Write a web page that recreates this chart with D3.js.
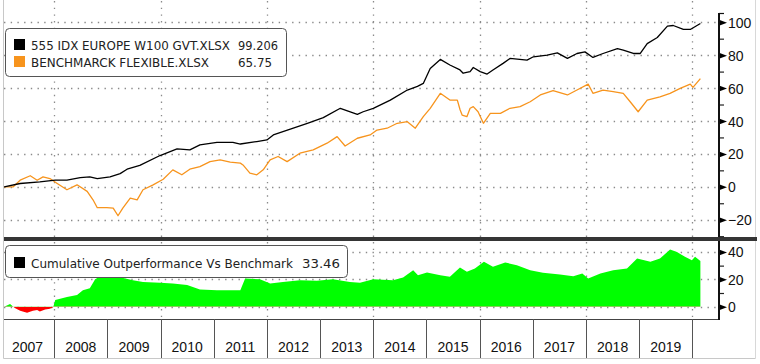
<!DOCTYPE html>
<html><head><meta charset="utf-8">
<script src="https://cdn.jsdelivr.net/npm/d3@7/dist/d3.min.js"></script>
<style>
html,body{margin:0;padding:0;background:#fff;}
svg{display:block;}
</style></head>
<body>
<script>
// ---------- DATA (decimal years, cumulative % values) ----------
const fundDates = [2007.06,2007.36,2007.73,2008.02,2008.24,2008.49,2008.67,2008.81,2009.05,2009.24,2009.37,2009.61,2009.99,2010.31,2010.55,2010.74,2011.06,2011.36,2011.50,2011.81,2012.00,2012.12,2012.44,2012.76,2013.06,2013.38,2013.70,2013.81,2014.00,2014.32,2014.64,2014.83,2014.94,2015.07,2015.26,2015.44,2015.63,2015.69,2015.82,2015.88,2016.01,2016.14,2016.25,2016.44,2016.57,2016.89,2017.01,2017.27,2017.46,2017.65,2017.83,2017.98,2018.13,2018.32,2018.59,2018.70,2018.89,2019.02,2019.15,2019.34,2019.53,2019.64,2019.83,2019.96,2020.15];
const fundValues = [0,2,3,4,4,5.6,6,5,6,8,10.7,13,19,23,22.4,25.5,27,27,26,27.5,28.5,31.5,35,38.6,42,47.7,44,45.6,47.7,52.7,58.8,61,62.8,71.9,77.4,74,71,69,70,72.5,70,68.5,71,75,78,77,79,80,81.4,78,81,82,78.6,81,84,83,81,81,87,90.7,97.6,98,95.6,95.6,99.206];

const benchDates = [2007.06,2007.23,2007.36,2007.55,2007.68,2007.79,2007.92,2008.05,2008.24,2008.43,2008.62,2008.73,2008.81,2008.99,2009.11,2009.20,2009.29,2009.43,2009.56,2009.67,2009.86,2010.05,2010.23,2010.40,2010.55,2010.74,2010.93,2011.12,2011.31,2011.50,2011.55,2011.68,2011.81,2011.93,2012.06,2012.21,2012.38,2012.62,2012.87,2013.13,2013.32,2013.47,2013.70,2013.94,2014.07,2014.26,2014.45,2014.64,2014.79,2014.94,2015.07,2015.26,2015.44,2015.58,2015.63,2015.67,2015.76,2015.82,2015.88,2015.97,2016.07,2016.20,2016.39,2016.57,2016.76,2016.95,2017.14,2017.38,2017.65,2017.83,2018.04,2018.13,2018.32,2018.51,2018.70,2018.83,2018.98,2019.15,2019.39,2019.58,2019.77,2019.96,2020.01,2020.15];
const benchValues = [0,0,4,6.7,4,6,5,2.2,-1.8,1.2,-2.8,-7.9,-12.7,-12.7,-13,-17.6,-13,-6.9,-7.9,-1.8,1.2,4.6,10.3,7.3,10.7,12.3,15.3,16.4,15,14.4,13.3,8.3,7.3,10.3,16.4,18.4,15.3,20.4,22.4,26.5,30.5,24.8,29.5,31.5,34.5,35.6,38.6,39.6,35.6,42.6,47.7,56.8,52.7,52.7,47,43.6,42.6,47.7,48.7,45.6,38.6,44.6,44.6,47.7,48.7,51.7,55.8,58.4,55.8,58.8,62.4,56.8,58.8,57.8,56.8,51.7,45.6,52.7,54.7,56.8,59.8,62.4,60.4,65.75];

const outDates = [2007.06,2007.17,2007.26,2007.36,2007.49,2007.60,2007.68,2007.73,2007.83,2007.92,2007.98,2008.02,2008.24,2008.43,2008.54,2008.67,2008.77,2008.86,2009.18,2009.48,2009.67,2009.99,2010.23,2010.50,2010.74,2011.06,2011.50,2011.59,2011.87,2012.06,2012.30,2012.62,2012.94,2013.24,2013.56,2013.75,2014.00,2014.37,2014.56,2014.75,2014.84,2015.01,2015.26,2015.44,2015.63,2015.76,2015.91,2016.08,2016.25,2016.48,2016.70,2016.95,2017.19,2017.51,2017.76,2017.93,2018.04,2018.27,2018.51,2018.77,2018.96,2019.21,2019.39,2019.58,2019.71,2019.86,2019.99,2020.05,2020.15];
const outValues = [0,2,-1,-3,-4.5,-3,-2.5,-3.5,-2,-1.5,-0.5,4.9,7,8.5,12,13.4,20,22,22,19.4,18,17.5,17,15.8,12.6,12.1,12.1,20.6,20,17,18,19.4,19,20,18,17.5,20,19.4,21.4,26.7,23,25,23,21.9,28.6,25.5,27.9,32.8,29.1,32.3,30.3,26.7,24.8,23.5,22.3,24.3,20.6,24.3,26.7,27.9,35.2,32.8,35.2,41.7,40,36.4,34,36.4,33.46];

const yearLabels = [2007,2008,2009,2010,2011,2012,2013,2014,2015,2016,2017,2018,2019];
const yearBoundaries = [2008,2009,2010,2011,2012,2013,2014,2015,2016,2017,2018,2019,2020];
const gridYears = [2008,2010,2012,2014,2016,2018,2020];
const upperTicks = [-20,0,20,40,60,80,100];
const upperMinor = [-30,-10,10,30,50,70,90];
const lowerTicks = [0,20,40];
const lowerMinor = [10,30];

const legendTop = [
  {name:"555 IDX EUROPE W100 GVT.XLSX", value:"99.206", color:"#000000"},
  {name:"BENCHMARCK FLEXIBLE.XLSX", value:"65.75", color:"#f7941d"}
];
const legendBottom = {name:"Cumulative Outperformance Vs Benchmark", value:"33.46", color:"#000000"};

// ---------- LAYOUT ----------
const W = 760, H = 364;
const plotL = 4, axisX = 719;
const upTop = 0, upBot = 237;
const loTop = 241, loBot = 319;

const svg = d3.select("body").append("svg").attr("width", W).attr("height", H);

const x = d3.scaleLinear().domain([2007, 2020.5]).range([1, axisX]);
const yU = d3.scaleLinear().domain([-30.5, 113.5]).range([upBot, upTop]);
const yL = d3.scaleLinear().domain([-9, 48]).range([loBot, loTop]);

const defs = svg.append("defs");
defs.append("clipPath").attr("id","clipU").append("rect").attr("x",plotL).attr("y",upTop).attr("width",axisX-plotL).attr("height",upBot-upTop);
defs.append("clipPath").attr("id","clipL").append("rect").attr("x",plotL).attr("y",loTop).attr("width",axisX-plotL).attr("height",loBot-loTop);
defs.append("clipPath").attr("id","clipPos").append("rect").attr("x",plotL).attr("y",loTop).attr("width",axisX-plotL).attr("height",yL(0)-loTop);
defs.append("clipPath").attr("id","clipNeg").append("rect").attr("x",plotL).attr("y",yL(0)).attr("width",axisX-plotL).attr("height",loBot-yL(0));

// outer frame (light)
svg.append("line").attr("x1",3.5).attr("x2",3.5).attr("y1",0).attr("y2",358.5).attr("stroke","#c8c8c8");
svg.append("line").attr("x1",3.5).attr("x2",755.5).attr("y1",358.5).attr("y2",358.5).attr("stroke","#c8c8c8");
svg.append("line").attr("x1",755.5).attr("x2",755.5).attr("y1",0).attr("y2",358.5).attr("stroke","#d8d8d8");

// ---------- GRIDLINES ----------
const gridStyle = g => g.attr("stroke","#8a8a8a").attr("stroke-width",1.3).attr("stroke-dasharray","1.4,5.3").attr("fill","none");
const gU = svg.append("g");
gU.selectAll("line.h").data(upperTicks).join("line")
  .attr("x1",plotL).attr("x2",axisX).attr("y1",d=>Math.round(yU(d))+0.5).attr("y2",d=>Math.round(yU(d))+0.5).call(gridStyle);
gU.selectAll("line.v").data(gridYears).join("line")
  .attr("x1",d=>Math.round(x(d))+0.5).attr("x2",d=>Math.round(x(d))+0.5).attr("y1",upTop+1).attr("y2",upBot).call(gridStyle);
const gL = svg.append("g");
gL.selectAll("line.h").data(lowerTicks).join("line")
  .attr("x1",plotL).attr("x2",axisX).attr("y1",d=>Math.round(yL(d))+0.5).attr("y2",d=>Math.round(yL(d))+0.5).call(gridStyle);
gL.selectAll("line.v").data(gridYears).join("line")
  .attr("x1",d=>Math.round(x(d))+0.5).attr("x2",d=>Math.round(x(d))+0.5).attr("y1",loTop+1).attr("y2",loBot).call(gridStyle);

// ---------- UPPER LINES ----------
const lineGen = (dates) => d3.line().x((d,i)=>x(dates[i])).y(d=>yU(d));
svg.append("path").datum(benchValues).attr("clip-path","url(#clipU)")
  .attr("d", lineGen(benchDates)).attr("fill","none").attr("stroke","#f7941d").attr("stroke-width",1.3).attr("stroke-linejoin","round");
svg.append("path").datum(fundValues).attr("clip-path","url(#clipU)")
  .attr("d", lineGen(fundDates)).attr("fill","none").attr("stroke","#000").attr("stroke-width",1.3).attr("stroke-linejoin","round");

// ---------- LOWER AREA ----------
const areaGen = d3.area().x((d,i)=>x(outDates[i])).y0(yL(0)).y1(d=>yL(d));
svg.append("path").datum(outValues).attr("clip-path","url(#clipPos)").attr("d",areaGen).attr("fill","#00ff00");
svg.append("path").datum(outValues).attr("clip-path","url(#clipNeg)").attr("d",areaGen).attr("fill","#ff0000");

// ---------- SEPARATOR ----------
svg.append("rect").attr("x",plotL).attr("y",upBot).attr("width",757-plotL).attr("height",4).attr("fill","#353535");
svg.append("line").attr("x1",plotL).attr("x2",axisX).attr("y1",loBot+0.5).attr("y2",loBot+0.5).attr("stroke","#444").attr("stroke-width",1);

// ---------- RIGHT AXES ----------
const axisFont = "'Liberation Sans', Arial, sans-serif";
function rightAxis(scale, major, minor, top, bot){
  const g = svg.append("g");
  // minor ticks
  g.append("g").attr("transform",`translate(${axisX},0)`)
    .call(d3.axisRight(scale).tickValues(minor).tickSize(5).tickFormat(""))
    .call(s=>{s.select(".domain").remove(); s.selectAll(".tick line").attr("stroke","#222").attr("stroke-width",1.2);});
  // major ticks with labels
  const ga = g.append("g").attr("transform",`translate(${axisX},0)`)
    .call(d3.axisRight(scale).tickValues(major).tickSize(0).tickPadding(9).tickFormat(d3.format("d")));
  ga.select(".domain").remove();
  ga.selectAll(".tick text").attr("font-family",axisFont).attr("font-size","14px").attr("fill","#111").attr("dy","0.36em");
  ga.selectAll(".tick").append("path").attr("d","M0,-3L8,0L0,3Z").attr("fill","#000");
  // axis line
  g.append("line").attr("x1",axisX).attr("x2",axisX).attr("y1",top).attr("y2",bot).attr("stroke","#111").attr("stroke-width",2);
}
rightAxis(yU, upperTicks, upperMinor, 13, upBot);
svg.append("line").attr("x1",axisX).attr("x2",axisX+5).attr("y1",13.5).attr("y2",13.5).attr("stroke","#111").attr("stroke-width",1.2);
rightAxis(yL, lowerTicks, lowerMinor, loTop, loBot+1);

// ---------- BOTTOM TIME AXIS ----------
const gx = svg.append("g");
gx.selectAll("line").data(yearBoundaries).join("line")
  .attr("x1",d=>Math.round(x(d))+0.5).attr("x2",d=>Math.round(x(d))+0.5)
  .attr("y1",loBot).attr("y2",358).attr("stroke","#555").attr("stroke-width",1);
gx.selectAll("text").data(yearLabels).join("text")
  .attr("x",d=>x(d+0.5)).attr("y",352).attr("text-anchor","middle")
  .attr("font-family",axisFont).attr("font-size","14px").attr("fill","#111").text(d=>d);

// ---------- LEGENDS ----------
const legFont = "'DejaVu Sans', Verdana, sans-serif";
const lt = svg.append("g");
lt.append("rect").attr("x",5.5).attr("y",28.5).attr("width",281).attr("height",48).attr("rx",4)
  .attr("fill","#fff").attr("stroke","#555").attr("stroke-width",1);
const nameLens = [199,178], valLens = [40,34];
legendTop.forEach((d,i)=>{
  const yb = 50 + i*17;
  lt.append("rect").attr("x",14).attr("y",yb-11).attr("width",11).attr("height",11).attr("fill",d.color);
  lt.append("text").attr("x",31).attr("y",yb).attr("font-family",legFont).attr("font-size","12.3px").attr("fill","#222")
    .attr("textLength",nameLens[i]).attr("lengthAdjust","spacingAndGlyphs").text(d.name);
  lt.append("text").attr("x",238).attr("y",yb).attr("font-family",legFont).attr("font-size","12.3px").attr("fill","#222")
    .attr("textLength",valLens[i]).attr("lengthAdjust","spacingAndGlyphs").text(d.value);
});
const lb = svg.append("g");
lb.append("rect").attr("x",5.5).attr("y",245.5).attr("width",342).attr("height",32).attr("rx",4)
  .attr("fill","#fff").attr("stroke","#555").attr("stroke-width",1);
lb.append("rect").attr("x",14).attr("y",257).attr("width",11).attr("height",11).attr("fill",legendBottom.color);
lb.append("text").attr("x",31).attr("y",268).attr("font-family",legFont).attr("font-size","12.5px").attr("fill","#222")
  .attr("textLength",262).attr("lengthAdjust","spacingAndGlyphs").text(legendBottom.name);
lb.append("text").attr("x",302).attr("y",268).attr("font-family",legFont).attr("font-size","12.5px").attr("fill","#222")
  .attr("textLength",38).attr("lengthAdjust","spacingAndGlyphs").text(legendBottom.value);
</script>
</body></html>
